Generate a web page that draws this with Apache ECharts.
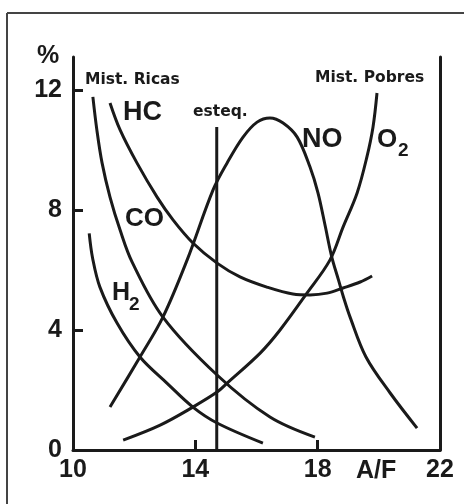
<!DOCTYPE html>
<html>
<head>
<meta charset="utf-8">
<script src="https://cdn.jsdelivr.net/npm/echarts@6/dist/echarts.min.js"></script>
<style>html,body{margin:0;padding:0;background:#fff;}#c{width:464px;height:504px;}</style>
</head>
<body>
<div id="c"></div>
<script>
// Data (A/F ratio, %)
const xTickLabels = [10, 14, 18, 22];
const yTickLabels = [0, 4, 8, 12];
const curveCO = [[10.65,11.77],[10.78,10.67],[10.95,9.57],[11.21,8.43],[11.54,7.33],[11.93,6.27],[12.94,4.43],[14.71,2.5],[16.44,1.1],[17.91,0.43]];
const curveHC = [[11.21,11.57],[11.54,10.67],[12.09,9.57],[12.75,8.43],[13.27,7.67],[13.92,6.9],[14.71,6.23],[15.46,5.77],[16.34,5.43],[17.19,5.2],[17.75,5.17],[18.31,5.23],[18.83,5.4],[19.39,5.6],[19.78,5.8]];
const curveH2 = [[10.53,7.22],[10.64,6.4],[10.88,5.43],[11.44,4.23],[12.19,3.1],[13.07,2.23],[13.92,1.43],[14.71,0.9],[16.21,0.23]];
const curveNO = [[11.21,1.43],[12.19,3.1],[12.94,4.43],[13.73,6.33],[14.58,8.67],[15.04,9.57],[15.56,10.43],[16.02,10.93],[16.44,11.07],[16.87,10.9],[17.33,10.43],[17.75,9.43],[18.01,8.57],[18.24,7.5],[18.46,6.44],[18.68,5.67],[18.84,5.11],[19.06,4.43],[19.58,3.1],[20.37,1.9],[21.25,0.73]];
const curveO2 = [[11.64,0.33],[12.85,0.83],[13.92,1.43],[14.71,1.93],[15.04,2.23],[16.12,3.23],[16.77,4.0],[17.65,5.23],[18.4,6.33],[18.83,7.43],[19.29,8.57],[19.61,9.77],[19.81,10.77],[19.94,11.9]];
const stoichLine = [[14.7,0],[14.7,10.77]];

const INK = '#1a1a1a';
const bigFont = '"Liberation Sans", Arial, sans-serif';
const smallFont = '"DejaVu Sans", sans-serif';

function curve(name, data, smooth) {
  return {
    name: name, type: 'line', data: data, smooth: smooth, symbol: 'none',
    yAxisIndex: 0,
    lineStyle: { color: INK, width: 3 }, silent: true
  };
}
function txt(text, x, y, size, family) {
  return { type: 'text', style: { text: text, x: x, y: y, fill: INK,
    font: 'bold ' + size + 'px ' + family, textAlign: 'left', textVerticalAlign: 'middle' } };
}

const chart = echarts.init(document.getElementById('c'), null, { renderer: 'canvas' });
chart.setOption({
  backgroundColor: '#fff',
  animation: false,
  grid: { left: 73, right: 24, top: 57, bottom: 54, containLabel: false },
  xAxis: {
    type: 'value', min: 10, max: 22, interval: 4,
    axisLine: { show: true, lineStyle: { color: INK, width: 3 } },
    axisTick: { show: true, inside: true, length: 10, lineStyle: { color: INK, width: 3 }, customValues: [14, 18] },
    axisLabel: { customValues: xTickLabels, margin: 8, color: INK, fontSize: 25, fontWeight: 'bold', fontFamily: bigFont },
    splitLine: { show: false }
  },
  yAxis: [{
    type: 'value', min: 0, max: 13.1, interval: 4,
    axisLine: { show: true, lineStyle: { color: INK, width: 3 } },
    axisTick: { show: true, inside: true, length: 10, lineStyle: { color: INK, width: 3 }, customValues: [4, 8, 12] },
    axisLabel: { customValues: yTickLabels, margin: 11, color: INK, fontSize: 25, fontWeight: 'bold', fontFamily: bigFont },
    splitLine: { show: false }
  }, {
    type: 'value', position: 'right', min: 0, max: 13.1,
    axisLine: { show: true, lineStyle: { color: INK, width: 3 } },
    axisTick: { show: false }, axisLabel: { show: false }, splitLine: { show: false }
  }],
  series: [
    curve('CO', curveCO, 0.35),
    curve('HC', curveHC, 0.35),
    curve('H2', curveH2, 0.35),
    curve('NO', curveNO, 0.35),
    curve('O2', curveO2, 0.35),
    curve('esteq', stoichLine, false)
  ],
  graphic: [
    { type: 'line', shape: { x1: 7, y1: 13, x2: 7, y2: 504 }, style: { stroke: '#444', lineWidth: 2 } },
    { type: 'line', shape: { x1: 7, y1: 13, x2: 464, y2: 13 }, style: { stroke: '#444', lineWidth: 2 } },
    txt('%', 37, 56, 25, bigFont),
    txt('Mist. Ricas', 85, 80, 15.5, smallFont),
    txt('Mist. Pobres', 315, 78, 15.5, smallFont),
    txt('esteq.', 193, 112, 15.5, smallFont),
    txt('HC', 123, 113, 27, bigFont),
    txt('CO', 125, 219, 26, bigFont),
    txt('H', 112, 293, 25, bigFont),
    txt('2', 129, 305, 19, bigFont),
    txt('NO', 302, 140, 27, bigFont),
    txt('O', 377, 140, 26, bigFont),
    txt('2', 398, 151, 19, bigFont),
    txt('A/F', 356, 471, 25, bigFont)
  ]
});
</script>
</body>
</html>
